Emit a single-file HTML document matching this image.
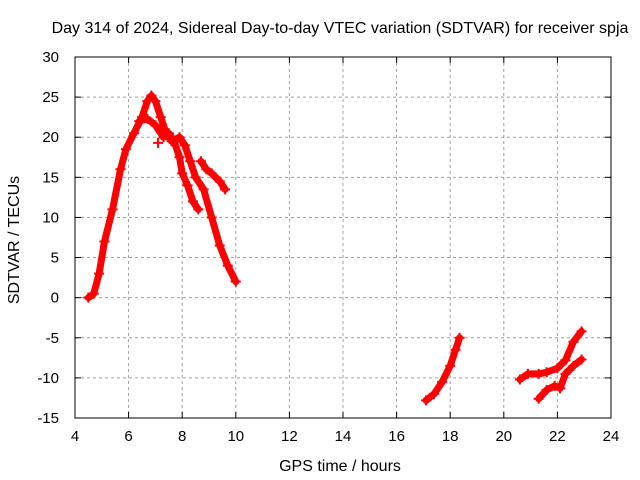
<!DOCTYPE html>
<html><head><meta charset="utf-8"><style>
body{margin:0;background:#fff;}
svg{display:block;font-family:"Liberation Sans",sans-serif;}
</style></head><body>
<svg id="c" width="640" height="480"></svg>
<script>
const xTicks=[4,6,8,10,12,14,16,18,20,22,24];
const yTicks=[-15,-10,-5,0,5,10,15,20,25,30];
const seriesA=[[4.5,0],[4.7,0.5],[4.9,3],[5.1,7],[5.4,11],[5.7,16],[5.9,18.5],[6.2,20.5],[6.5,22.5],[6.7,24.5],[6.85,25.2],[7.0,24.5],[7.2,22.5],[7.4,20.5],[7.6,19.5],[7.9,20],[8.1,19],[8.3,17],[8.5,15],[8.8,13.5],[9.1,10],[9.4,6.5],[9.7,4],[10.0,2]];
const seriesB=[[6.4,22],[6.7,22.3],[7.0,21.5],[7.3,20],[7.5,20.5],[7.7,19.5],[7.9,17.5],[8.0,15.5],[8.2,14],[8.4,12],[8.6,11]];
const seriesC=[[8.7,17],[8.9,16],[9.1,15.5],[9.4,14.5],[9.6,13.5]];
const seriesIso=[[7.1,19.3]];
const seriesD=[[17.1,-12.8],[17.4,-12],[17.7,-10.5],[18.0,-8.5],[18.2,-6.5],[18.35,-5]];
const seriesE=[[20.6,-10.2],[20.9,-9.5],[21.3,-9.5],[21.6,-9.3],[22.0,-8.8],[22.3,-7.8],[22.6,-5.5],[22.9,-4.2]];
const seriesF=[[21.3,-12.6],[21.6,-11.5],[21.9,-11],[22.1,-11.3],[22.3,-9.5],[22.6,-8.5],[22.9,-7.7]];
const L=75,R=611,T=57,B=418;
const X=v=>L+(v-4)/20*(R-L);
const Y=v=>B-(v+15)/45*(B-T);
const svg=document.getElementById('c');
const NS='http://www.w3.org/2000/svg';
function mk(t,a,p){const e=document.createElementNS(NS,t);for(const k in a)e.setAttribute(k,a[k]);(p||svg).appendChild(e);return e;}
const grid=mk('g',{});


xTicks.forEach(v=>{
  if(v>4&&v<24)mk('line',{x1:X(v),x2:X(v),y1:T,y2:B,stroke:'#a0a0a0','stroke-dasharray':'3,3'},grid);
  mk('line',{x1:X(v),x2:X(v),y1:B,y2:B-6,stroke:'#000'},grid);
  mk('line',{x1:X(v),x2:X(v),y1:T,y2:T+6,stroke:'#000'},grid);
  const t=mk('text',{x:X(v),y:B+23,'text-anchor':'middle','font-size':15});t.textContent=v;
  
  
});
yTicks.forEach(v=>{
  if(v>-15&&v<30)mk('line',{x1:L,x2:R,y1:Y(v),y2:Y(v),stroke:'#a0a0a0','stroke-dasharray':'3,3'},grid);
  mk('line',{x1:L,x2:L+6,y1:Y(v),y2:Y(v),stroke:'#000'},grid);
  mk('line',{x1:R,x2:R-6,y1:Y(v),y2:Y(v),stroke:'#000'},grid);
  const t=mk('text',{x:L-16,y:Y(v)+5,'text-anchor':'end','font-size':15});t.textContent=v;
  
  
});
const frame=mk('rect',{x:L,y:T,width:R-L,height:B-T,fill:'none',stroke:'#000'});


[seriesA,seriesB,seriesC,seriesIso,seriesD,seriesE,seriesF].forEach(s=>{
  const g=mk('g',{});
  
  
  if(s.length>1)mk('polyline',{points:s.map(p=>X(p[0])+','+Y(p[1])).join(' '),fill:'none',stroke:'#f00','stroke-width':7,'stroke-linejoin':'round','stroke-linecap':'round'},g);
  s.forEach(p=>{
    const m=mk('path',{d:`M${X(p[0])-5},${Y(p[1])}h10M${X(p[0])},${Y(p[1])-5}v10`,stroke:'#f00','stroke-width':2},g);
    
    
  });
});
const title=mk('text',{x:340,y:33,'text-anchor':'middle','font-size':16});
title.textContent='Day 314 of 2024, Sidereal Day-to-day VTEC variation (SDTVAR) for receiver spja';


const xt=mk('text',{x:340,y:471,'text-anchor':'middle','font-size':16});
xt.textContent='GPS time / hours';


const yt=mk('text',{x:19,y:240,'text-anchor':'middle','font-size':16,transform:'rotate(-90 19 240)'});
yt.textContent='SDTVAR / TECUs';


</script>
</body></html>
